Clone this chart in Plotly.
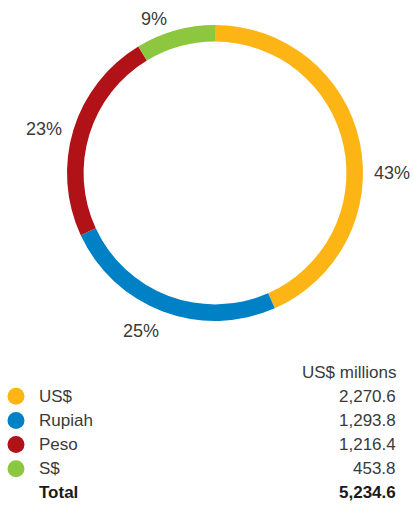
import math
import plotly.graph_objects as go

# Currency breakdown, US$ millions
currencies = ["US$", "Rupiah", "Peso", "S$"]
amounts = [2270.6, 1293.8, 1216.4, 453.8]
total_label = "Total"
total_amount = 5234.6
unit_label = "US$ millions"
colors = ["#FDB515", "#0081C6", "#B01218", "#8DC63F"]

W, H = 413, 505
FONT = "Liberation Sans, Arial, sans-serif"
TXT = "#3a3a3a"

# Ring geometry (pixels)
CX, CY, R = 215, 173, 148

# Percentage label placement: angular nudge from slice mid-angle (deg) and radius (px)
label_nudge = [11.9, 4.5, -2.5, -5.9]
label_radius = [177, 174, 177, 166]

fig = go.Figure()

# Donut ring
fig.add_trace(go.Pie(
    labels=currencies,
    values=amounts,
    marker=dict(colors=colors, line=dict(width=0)),
    hole=0.888,
    sort=False,
    direction="clockwise",
    rotation=0,
    textinfo="none",
    showlegend=False,
    hoverinfo="skip",
    domain=dict(x=[(CX - R) / W, (CX + R) / W], y=[1 - (CY + R) / H, 1 - (CY - R) / H]),
))

annotations = []

# Percentage labels around the ring, derived from each slice's share
grand = sum(amounts)
cum = 0.0
for val, nudge, rad in zip(amounts, label_nudge, label_radius):
    share = val / grand
    mid = (cum + share / 2) * 360.0 + nudge
    cum += share
    px = CX + rad * math.sin(math.radians(mid))
    py = CY - rad * math.cos(math.radians(mid))
    annotations.append(dict(
        x=px / W, y=1 - py / H, xref="paper", yref="paper",
        text=f"{share * 100:.0f}%", xanchor="center", yanchor="middle",
        showarrow=False, font=dict(family=FONT, size=18, color=TXT),
    ))

# Table legend beneath the ring: rows on a hidden axis
rows = list(range(1, len(currencies) + 1))
fig.add_trace(go.Scatter(
    x=[16] * len(currencies),
    y=rows,
    mode="markers",
    marker=dict(size=17, color=colors, line=dict(width=0)),
    xaxis="x", yaxis="y",
    showlegend=False,
    hoverinfo="skip",
))

annotations.append(dict(x=398, y=0, xref="x", yref="y", text=unit_label,
                        xanchor="right", yanchor="middle", showarrow=False,
                        font=dict(family=FONT, size=17, color=TXT)))
for r, name, val in zip(rows, currencies, amounts):
    annotations.append(dict(x=37, y=r, xref="x", yref="y", text=name,
                            xanchor="left", yanchor="middle", showarrow=False,
                            font=dict(family=FONT, size=17, color=TXT)))
    annotations.append(dict(x=398, y=r, xref="x", yref="y", text=f"{val:,.1f}",
                            xanchor="right", yanchor="middle", showarrow=False,
                            font=dict(family=FONT, size=17, color=TXT)))
tr = len(currencies) + 1
annotations.append(dict(x=37, y=tr, xref="x", yref="y", text=f"<b>{total_label}</b>",
                        xanchor="left", yanchor="middle", showarrow=False,
                        font=dict(family=FONT, size=17, color="#1a1a1a")))
annotations.append(dict(x=398, y=tr, xref="x", yref="y", text=f"<b>{total_amount:,.1f}</b>",
                        xanchor="right", yanchor="middle", showarrow=False,
                        font=dict(family=FONT, size=17, color="#1a1a1a")))

fig.update_layout(
    width=W, height=H,
    margin=dict(l=0, r=0, t=0, b=0),
    paper_bgcolor="white", plot_bgcolor="white",
    xaxis=dict(domain=[0, 1], range=[0, W], visible=False, fixedrange=True),
    yaxis=dict(domain=[0, 1 - 360 / H], range=[5.5, -0.5], visible=False, fixedrange=True),
    annotations=annotations,
)

fig.write_html("out.html")
